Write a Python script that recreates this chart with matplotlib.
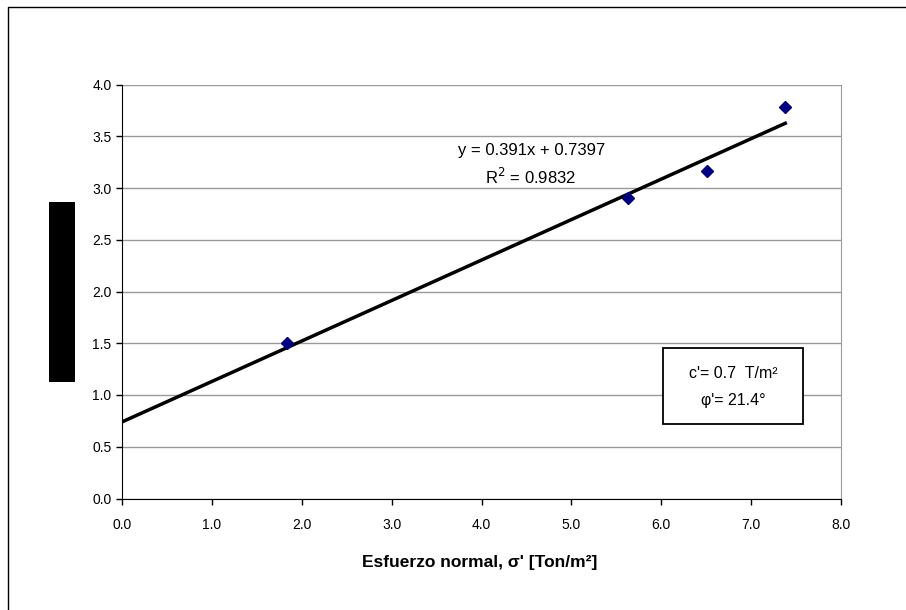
import matplotlib
matplotlib.use("Agg")
import matplotlib.pyplot as plt
from matplotlib.patches import Rectangle
from matplotlib.lines import Line2D
import numpy as np

plt.rcParams['font.family'] = ['Liberation Sans', 'DejaVu Sans']

# Data
sigma_n = [1.84, 5.63, 6.51, 7.38]
tau = [1.50, 2.90, 3.16, 3.78]
slope = 0.391
intercept = 0.7397
x_ticks = [0, 1, 2, 3, 4, 5, 6, 7, 8]
y_ticks = [0.0, 0.5, 1.0, 1.5, 2.0, 2.5, 3.0, 3.5, 4.0]
eq_text = "y = 0.391x + 0.7397"
r2_text = "R$^2$ = 0.9832"
box_line1 = "c'= 0.7  T/m²"
box_line2 = "φ'= 21.4°"
xlabel = "Esfuerzo normal, σ' [Ton/m²]"

W, H = 906, 610
fig = plt.figure(figsize=(W/100, H/100), dpi=100)
ax = fig.add_axes([122/W, 1-498.5/H, (841-122)/W, (498.5-84.5)/H])

ax.set_xlim(0, 8)
ax.set_ylim(0, 4)
ax.set_xticks(x_ticks)
ax.set_yticks(y_ticks)
ax.set_xticklabels([f"{v:.1f}" for v in x_ticks], fontsize=10)
ax.set_yticklabels([f"{v:.1f}" for v in y_ticks], fontsize=10)
ax.tick_params(axis='x', direction='out', length=4, width=1, colors='black', pad=10)
ax.tick_params(axis='y', direction='out', length=4.5, width=1, colors='black', pad=3)
ax.yaxis.grid(True, color='#9a9a9a', linewidth=1)
ax.set_axisbelow(True)
ax.spines['top'].set_visible(False)
ax.spines['right'].set_color('#9a9a9a')
ax.spines['left'].set_color('black')
ax.spines['bottom'].set_color('black')

# trendline
xs = np.array([0, max(sigma_n)])
ax.plot(xs, slope*xs + intercept, color='black', linewidth=2.5, zorder=3)
ax.plot(sigma_n, tau, linestyle='none', marker='D', markersize=6.5,
        color='#000080', markeredgecolor='#000080', zorder=4)

fig.text(532/W, 1-150/H, eq_text, fontsize=12, ha='center', va='center')
fig.text(531/W, 1-177/H, r2_text, fontsize=12, ha='center', va='center')

fig.text(480/W, 1-562/H, xlabel, fontsize=12.5, fontweight='bold', ha='center', va='center')

# box with parameters
fig.patches.append(Rectangle((663/W, 1-424/H), (803-663)/W, (424-348)/H,
                             transform=fig.transFigure, fill=True, facecolor='white',
                             edgecolor='black', linewidth=1.3, zorder=5))
fig.text(733/W, 1-374/H, box_line1, fontsize=11.5, ha='center', va='center', zorder=6)
fig.text(733/W, 1-400/H, box_line2, fontsize=11.5, ha='center', va='center', zorder=6)

# redacted y label block
fig.patches.append(Rectangle((49/W, 1-382/H), (75-49)/W, (382-202)/H,
                             transform=fig.transFigure, facecolor='black', edgecolor='none'))

# outer border (top and left visible)
fig.lines.append(Line2D([8/W, 8/W, 1.0], [0.0, 1-7/H, 1-7/H], transform=fig.transFigure,
                        color='black', linewidth=1))

fig.savefig("out.png", dpi=100)
